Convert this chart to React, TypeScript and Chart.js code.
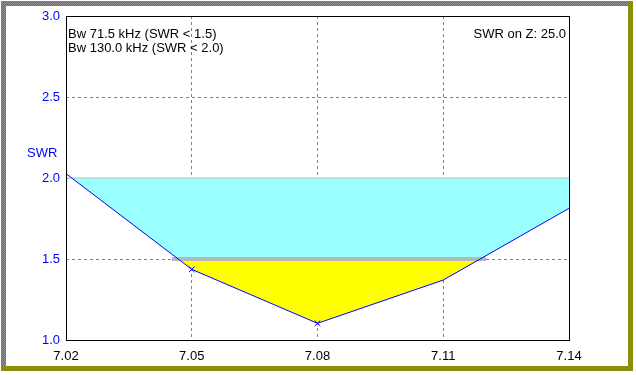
import React, { useEffect, useRef } from 'react';
import { Chart, registerables } from 'chart.js';

Chart.register(...registerables);

// ---- data ----
const freqs = [7.02, 7.05, 7.08, 7.11, 7.14];
const swrValues = [2.027, 1.436, 1.103, 1.37, 1.813];
const markerRadius = [0, 4, 4, 0, 0];
const xTicks = [7.02, 7.05, 7.08, 7.11, 7.14];
const yTicks = [1.0, 1.5, 2.0, 2.5, 3.0];
const swrLimitHigh = 2.0;
const swrLimitLow = 1.5;
const bwLowEdges = [7.0453, 7.1202];
const infoLines = ['Bw 71.5 kHz (SWR < 1.5)', 'Bw 130.0 kHz (SWR < 2.0)'];
const zLabel = 'SWR on Z: 25.0';
const yTitle = 'SWR';

const FONT = '13px "Liberation Sans", Arial, sans-serif';

const textPlugin = {
  id: 'swrTexts',
  afterDraw(chart: any) {
    const { ctx, chartArea } = chart;
    const yScale = chart.scales.y;
    ctx.save();
    // plot border
    ctx.strokeStyle = '#000000';
    ctx.lineWidth = 1;
    ctx.setLineDash([]);
    ctx.strokeRect(
      Math.round(chartArea.left) + 0.5,
      Math.round(chartArea.top) + 0.5,
      Math.round(chartArea.right - chartArea.left),
      Math.round(chartArea.bottom - chartArea.top)
    );
    ctx.font = FONT;
    ctx.textBaseline = 'alphabetic';
    ctx.fillStyle = '#000000';
    ctx.textAlign = 'left';
    infoLines.forEach((t, i) => {
      ctx.fillText(t, chartArea.left + 2, chartArea.top + 22 + i * 14);
    });
    ctx.textAlign = 'right';
    ctx.fillText(zLabel, chartArea.right - 3, chartArea.top + 22);
    ctx.fillStyle = '#0000FF';
    ctx.textAlign = 'left';
    ctx.fillText(yTitle, 27, yScale.getPixelForValue(swrLimitHigh) - 21);
    ctx.restore();
  },
};

const frameStyle = (left: number, top: number, width: number, height: number): React.CSSProperties => ({
  position: 'absolute',
  left,
  top,
  width,
  height,
  background: 'repeating-conic-gradient(#808000 0% 25%, #8c8c8c 0% 50%) 0 0 / 2px 2px',
  pointerEvents: 'none',
});

export default function App() {
  const canvasRef = useRef<HTMLCanvasElement | null>(null);

  useEffect(() => {
    document.body.style.margin = '0';
    const canvas = canvasRef.current;
    if (!canvas) return;

    const transparent = 'rgba(0,0,0,0)';
    const chart = new Chart(canvas, {
      type: 'line',
      data: {
        datasets: [
          {
            label: 'SWR',
            data: freqs.map((x, i) => ({ x, y: swrValues[i] })),
            borderColor: '#0000FF',
            borderWidth: 1,
            pointStyle: 'crossRot',
            pointRadius: markerRadius,
            pointBorderColor: '#0000FF',
            pointBorderWidth: 1,
            pointBackgroundColor: '#0000FF',
            fill: false,
            tension: 0,
            order: 0,
          },
          {
            label: 'bw15',
            data: bwLowEdges.map((x) => ({ x, y: swrLimitLow })),
            borderColor: '#B8B8B8',
            borderWidth: 4,
            borderCapStyle: 'butt',
            pointRadius: 0,
            fill: false,
            order: 1,
          },
          {
            label: 'lim20',
            data: [
              { x: xTicks[0], y: swrLimitHigh },
              { x: xTicks[xTicks.length - 1], y: swrLimitHigh },
            ],
            borderColor: '#C0C0C0',
            borderWidth: 1,
            pointRadius: 0,
            fill: false,
            order: 2,
          },
          {
            label: 'fill15',
            data: freqs.map((x) => ({ x, y: swrLimitLow })),
            borderColor: transparent,
            borderWidth: 0,
            pointRadius: 0,
            fill: { target: 0, above: '#FFFF00', below: transparent },
            order: 3,
          },
          {
            label: 'fill20',
            data: freqs.map((x) => ({ x, y: swrLimitHigh })),
            borderColor: transparent,
            borderWidth: 0,
            pointRadius: 0,
            fill: { target: 0, above: '#99FFFF', below: transparent },
            order: 4,
          },
        ],
      } as any,
      options: {
        animation: false,
        responsive: false,
        devicePixelRatio: 1,
        layout: { padding: { top: 16, right: 67, left: 0, bottom: 0 } },
        plugins: {
          legend: { display: false },
          tooltip: { enabled: false },
          filler: { drawTime: 'beforeDatasetDraw' },
        },
        scales: {
          x: {
            type: 'linear',
            min: xTicks[0],
            max: xTicks[xTicks.length - 1],
            z: 1,
            afterBuildTicks: (scale: any) => {
              scale.ticks = xTicks.map((v) => ({ value: v }));
            },
            afterFit: (scale: any) => {
              scale.height = 35;
            },
            ticks: {
              color: '#000000',
              font: { family: '"Liberation Sans", Arial, sans-serif', size: 13 },
              padding: 9,
              maxRotation: 0,
              autoSkip: false,
              callback: (v: any) => Number(v).toFixed(2),
            },
            grid: {
              drawTicks: false,
              color: (c: any) => {
                const v = c.tick ? c.tick.value : null;
                return v === xTicks[0] || v === xTicks[xTicks.length - 1] ? transparent : '#808080';
              },
              lineWidth: 1,
            },
            border: { display: false, dash: [3, 3] },
          },
          y: {
            type: 'linear',
            min: yTicks[0],
            max: yTicks[yTicks.length - 1],
            afterBuildTicks: (scale: any) => {
              scale.ticks = yTicks.map((v) => ({ value: v }));
            },
            afterFit: (scale: any) => {
              scale.width = 66;
            },
            ticks: {
              color: '#0000FF',
              font: { family: '"Liberation Sans", Arial, sans-serif', size: 13 },
              padding: 6,
              autoSkip: false,
              callback: (v: any) => Number(v).toFixed(1),
            },
            grid: {
              drawTicks: false,
              color: (c: any) => {
                const v = c.tick ? c.tick.value : null;
                return v === yTicks[0] || v === yTicks[yTicks.length - 1] ? transparent : '#808080';
              },
              lineWidth: 1,
            },
            border: { display: false, dash: [3, 3] },
          },
        },
      } as any,
      plugins: [textPlugin],
    });

    return () => {
      chart.destroy();
    };
  }, []);

  return (
    <div style={{ position: 'relative', width: 636, height: 375, background: '#ffffff', overflow: 'hidden' }}>
      <canvas ref={canvasRef} width={636} height={375} style={{ display: 'block', width: 636, height: 375 }} />
      <div style={frameStyle(1, 1, 632, 5)} />
      <div style={frameStyle(1, 1, 5, 370)} />
      <div style={frameStyle(628, 1, 5, 370)} />
      <div style={frameStyle(1, 366, 632, 5)} />
    </div>
  );
}
